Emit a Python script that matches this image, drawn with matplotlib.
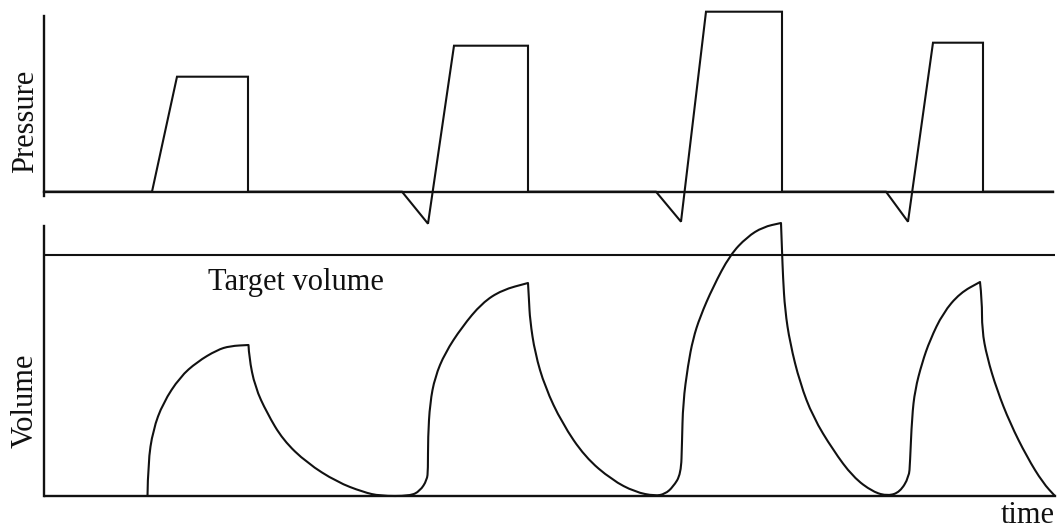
import matplotlib
matplotlib.use("Agg")
import matplotlib.pyplot as plt
import numpy as np
from matplotlib.path import Path
from matplotlib.patches import PathPatch

# pressure trace (arbitrary units)
p_time = [0, 10.8, 13.3, 20.4, 20.4, 35.8, 38.4, 41.0, 48.4, 48.4,
          61.2, 63.7, 66.2, 73.8, 73.8, 84.2, 86.4, 88.9, 93.9, 93.9, 100.9]
pressure = [0, 0, 11.5, 11.5, 0, 0, -3.2, 14.6, 14.6, 0,
            0, -3.0, 18.0, 18.0, 0, 0, -3.0, 14.9, 14.9, 0, 0]

# volume trace, four breaths
v_time = [10.35, 10.4, 10.9, 11.9, 13.6, 15.3, 17.3, 18.6, 20.45, 20.5, 21.1, 22.3, 23.9, 26.3, 29.3, 31.9, 33.6,
          36.6, 37.6, 38.3, 38.4, 38.4, 38.6, 39.1, 40.1, 41.8, 43.8, 45.8, 48.4, 48.5, 48.6, 49.1, 50.1, 51.8,
          54.1, 56.8, 59.1, 61.1,
          62.1, 62.9, 63.7, 63.8, 63.9, 64.4, 64.9, 65.6, 66.9, 68.6, 70.3, 71.9, 73.7, 73.8, 73.9, 74.1, 74.6,
          75.6, 76.9, 78.9, 80.9, 82.9, 84.4,
          85.6, 86.5, 86.6, 86.8, 87.1, 87.8, 88.6, 89.9, 91.6, 93.6, 93.8, 93.8, 94.3, 95.3, 96.6, 98.3, 99.9, 101.1]
volume = [0, 3.3, 6.6, 9.3, 11.9, 13.4, 14.6, 15.0, 15.1, 13.9, 10.9, 8.3, 5.6, 3.3, 1.4, 0.4, 0,
          0, 0.5, 1.6, 2.6, 5.9, 9.3, 11.9, 14.3, 16.9, 19.3, 20.6, 21.3, 19.6, 17.6, 14.3, 10.9, 7.3,
          3.9, 1.6, 0.4, 0,
          0.2, 0.9, 2.2, 5.3, 9.3, 13.1, 15.7, 17.9, 20.9, 24.1, 25.9, 26.9, 27.3, 24.6, 21.9, 18.6, 15.3,
          11.3, 7.9, 4.6, 1.9, 0.4, 0,
          0.4, 1.9, 3.3, 7.9, 10.6, 13.3, 15.6, 18.3, 20.3, 21.4, 19.6, 16.6, 13.9, 10.6, 7.3, 3.9, 1.3, 0]

target_volume = 24.1

ink = "#111111"
font = "Liberation Serif"
fs = 22


def smooth_path(xs, ys, corner_deg=50):
    # quadratic bezier through midpoints, sharp where the trace turns hard
    pts = np.column_stack([xs, ys])
    verts = [pts[0]]
    codes = [Path.MOVETO]
    for i in range(1, len(pts) - 1):
        a = pts[i] - pts[i - 1]
        b = pts[i + 1] - pts[i]
        cosang = np.dot(a, b) / (np.linalg.norm(a) * np.linalg.norm(b) + 1e-9)
        if np.degrees(np.arccos(np.clip(cosang, -1, 1))) > corner_deg:
            verts.append(pts[i])
            codes.append(Path.LINETO)
        else:
            verts += [pts[i], (pts[i] + pts[i + 1]) / 2]
            codes += [Path.CURVE3, Path.CURVE3]
    verts.append(pts[-1])
    codes.append(Path.LINETO)
    return Path(verts, codes)


fig = plt.figure(figsize=(10.61, 5.29), dpi=100)
W, H = 1061, 529

ax_p = fig.add_axes([44 / W, 1 - 235 / H, 1 - 44 / W, 230 / H])
ax_v = fig.add_axes([44 / W, 0, 1 - 44 / W, 314 / H])

ax_p.set_xlim(0, 101.7)
ax_p.set_ylim(-4.33, 18.67)
ax_v.set_xlim(0, 101.7)
ax_v.set_ylim(-3.3, 28.1)

for ax in (ax_p, ax_v):
    ax.patch.set_visible(False)
    ax.set_xticks([])
    ax.set_yticks([])
    ax.spines["top"].set_visible(False)
    ax.spines["right"].set_visible(False)
    ax.spines["bottom"].set_position(("data", 0))
    for s in ("left", "bottom"):
        ax.spines[s].set_linewidth(1.7)
        ax.spines[s].set_color(ink)

ax_p.spines["left"].set_bounds(-0.43, 17.6)
ax_p.spines["bottom"].set_bounds(0, 100.9)
ax_v.spines["left"].set_bounds(0, 27.0)
ax_v.spines["bottom"].set_bounds(0.1, 101.1)

ax_p.plot(p_time, pressure, color=ink, lw=1.5, solid_joinstyle="miter")
ax_v.add_patch(PathPatch(smooth_path(v_time, volume), facecolor="none",
                         edgecolor=ink, lw=1.5, joinstyle="round"))
ax_v.hlines(target_volume, 0.1, 101.1, color=ink, lw=1.5)

ax_v.text(25.2, 20.6, "Target volume", family=font, fontsize=fs,
          ha="center", va="baseline", color=ink)
ax_v.text(101.1, -2.7, "time", family=font, fontsize=fs,
          ha="right", va="baseline", color=ink)

fig.text(33 / W, 1 - 121 / H, "Pressure", family=font, fontsize=fs, rotation=90,
         rotation_mode="anchor", ha="center", va="baseline", color=ink)
fig.text(33 / W, 1 - 401 / H, "Volume", family=font, fontsize=fs, rotation=90,
         rotation_mode="anchor", ha="center", va="baseline", color=ink)

fig.savefig("out.png", dpi=100, facecolor="white")
